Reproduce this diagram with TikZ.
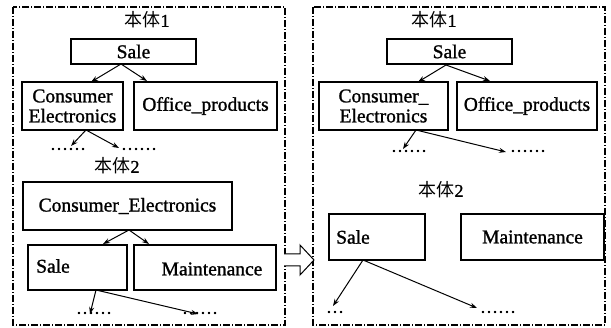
\documentclass[tikz,border=0pt]{standalone}
\usepackage{fontspec}
\setmainfont{Liberation Serif}[FakeBold=1.2,AutoFakeBold=1.2]
\newfontfamily\cjk{Noto Sans CJK SC}
\usetikzlibrary{arrows.meta}
\begin{document}
\begin{tikzpicture}[x=1pt,y=-1pt,
  frame/.style={line width=1.6pt,dash pattern=on 7pt off 2pt on 1pt off 2pt},
  box/.style={draw,line width=1.4pt,inner sep=0pt,font=\fontsize{19.5}{20}\selectfont},
  lbl/.style={inner sep=0pt,font=\fontsize{18}{18}\selectfont},
  txt/.style={inner sep=0pt,font=\fontsize{19.5}{20}\selectfont},
  dots/.style={inner sep=0pt,font=\fontsize{18}{18}\selectfont},
  link/.style={line width=1pt,-{Stealth[length=7pt,width=5pt]}}]
\useasboundingbox (0,0) rectangle (611,328);
% two panels
\draw[frame] (13,7) rectangle (285,325);
\draw[frame] (313,7) rectangle (605,325);
% hollow block arrow between panels
\draw[line width=1pt,fill=white] (284,254) -- (300,254) -- (300,245) -- (314,260)
  -- (300,275) -- (300,266) -- (284,266);

% ---- left panel, ontology 1
\node[lbl] (l1) at (147,20) {{\cjk 本体}1};
\node[box,minimum width=125,minimum height=25] (ls) at (133.5,51.5) {Sale};
\node[box,minimum width=101,minimum height=48,align=center] (lce) at (72.5,106)
  {Consumer\\Electronics};
\node[box,minimum width=143,minimum height=48] (lop) at (205.5,106) {Office\_products};
\coordinate (ls0) at (121,64);
\draw[link] (ls0) -- (91,82);
\draw[link] (ls0) -- (147,81);
\node[dots] (ld1) at (68,149) {……};
\node[dots] (ld2) at (139,149) {……};
\coordinate (lce0) at (86,130);
\draw[link] (lce0) -- (71,146);
\draw[link] (lce0) -- (119,148);

% ---- left panel, ontology 2
\node[lbl] (l2) at (117,166) {{\cjk 本体}2};
\node[box,minimum width=209,minimum height=48] (lc2) at (127.5,206) {Consumer\_Electronics};
\node[box,minimum width=99,minimum height=45] (ls2) at (77.5,267.5) {};
\node[txt,anchor=west] (ls2t) at (36,266) {Sale};
\node[box,minimum width=142,minimum height=45] (lm2) at (205,267.5) {};
\node[txt] (lm2t) at (212,269) {Maintenance};
\coordinate (lc20) at (129,230);
\draw[link] (lc20) -- (103,244);
\draw[link] (lc20) -- (149,244);
\node[dots] (ld3) at (94,313) {……};
\node[dots] (ld4) at (200,313) {……};
\coordinate (ls20) at (96,290);
\draw[link] (ls20) -- (90,314);
\draw[link] (ls20) -- (198,314);

% ---- right panel, ontology 1
\node[lbl] (r1) at (434,20) {{\cjk 本体}1};
\node[box,minimum width=125,minimum height=25] (rs) at (449.5,51.5) {Sale};
\node[box,minimum width=129,minimum height=48,align=center] (rce) at (383.5,106)
  {Consumer\_\\Electronics};
\node[box,minimum width=140,minimum height=48] (rop) at (527,106) {Office\_products};
\coordinate (rs0) at (446,65);
\draw[link] (rs0) -- (418,82);
\draw[link] (rs0) -- (490,81);
\node[dots] (rd1) at (409,151) {……};
\node[dots] (rd2) at (528,151) {……};
\coordinate (rce0) at (416,130);
\draw[link] (rce0) -- (403,149);
\draw[link] (rce0) -- (506,152);

% ---- right panel, ontology 2
\node[lbl] (r2) at (441,190) {{\cjk 本体}2};
\node[box,minimum width=96,minimum height=46] (rs2) at (377,237) {};
\node[txt,anchor=west] (rs2t) at (336,237) {Sale};
\node[box,minimum width=143,minimum height=46] (rm2) at (532.5,237) {Maintenance};
\node[dots] (rd3) at (335,312) {…};
\node[dots] (rd4) at (498,312) {……};
\coordinate (rs20) at (363,260);
\draw[link] (rs20) -- (333,306);
\draw[link] (rs20) -- (477,308);
\end{tikzpicture}
\end{document}
